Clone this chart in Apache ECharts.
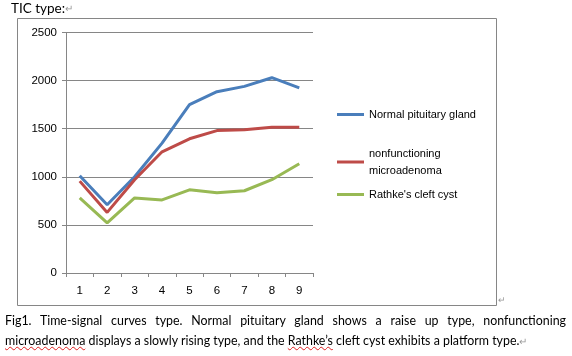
<!DOCTYPE html>
<html>
<head>
<meta charset="utf-8">
<script src="https://cdn.jsdelivr.net/npm/echarts@6/dist/echarts.min.js"></script>
<style>
  html, body { margin: 0; padding: 0; background: #fff; }
  #wrap { position: relative; width: 572px; height: 356px; overflow: hidden; }
  #chart { position: absolute; left: 0; top: 0; width: 572px; height: 356px; }
  .cap { position: absolute; left: 5px; width: 561px; font-family: Lato, 'Open Sans', sans-serif; font-size: 12.4px; color: #000; white-space: nowrap; }
  #cap1 { top: 313px; text-align: justify; text-align-last: justify; white-space: normal; }
  #cap2 { top: 333px; }
  .sp { text-decoration: underline wavy #e02020; text-decoration-thickness: 1px; }
  .pm { color: #999; font-size: 10px; }
</style>
</head>
<body>
<div id="wrap">
  <div id="chart"></div>
  <div class="cap" id="cap1">Fig1. Time-signal curves type. Normal pituitary gland shows a raise up type, nonfunctioning</div>
  <div class="cap" id="cap2"><span class="sp">microadenoma</span> displays a slowly rising type, and the <span class="sp">Rathke’s</span> cleft cyst exhibits a platform type.<span class="pm">↵</span></div>
</div>
<script>
// 时间点
const categories = ['1', '2', '3', '4', '5', '6', '7', '8', '9']
const normalGland = [1010, 710, 1000, 1350, 1750, 1885, 1940, 2030, 1925]
const microadenoma = [955, 630, 970, 1260, 1395, 1480, 1490, 1515, 1515]
const rathkeCyst = [780, 520, 780, 760, 865, 835, 855, 970, 1135]
const seriesNames = ['Normal pituitary gland', 'nonfunctioning\nmicroadenoma', "Rathke's cleft cyst"]
const seriesColors = ['#4A7EBB', '#BE4B48', '#98B954']

const axisGray = '#868686'
const font = "'Liberation Sans', Arial, sans-serif"

const myChart = echarts.init(document.getElementById('chart'))

const makeSeries = (name, data, color) => ({
  name,
  type: 'line',
  data,
  symbol: 'none',
  lineStyle: { width: 3, color },
  itemStyle: { color },
  animation: false
})

const makeLegend = (name, top) => ({
  data: [name],
  left: 332,
  top,
  orient: 'vertical',
  icon: 'rect',
  itemWidth: 27,
  itemHeight: 3,
  itemGap: 6,
  textStyle: { fontFamily: font, fontSize: 11, color: '#000', lineHeight: 17 }
})

const chartOption = {
  animation: false,
  title: {
    text: 'TIC type:{pm|↵}',
    left: 7,
    top: 0,
    padding: [2, 4],
    textStyle: {
      fontFamily: "Lato, 'Open Sans', sans-serif",
      fontSize: 13.5,
      fontWeight: 'normal',
      color: '#000',
      rich: { pm: { fontSize: 10, color: '#999' } }
    }
  },
  legend: [
    makeLegend(seriesNames[0], 101),
    makeLegend(seriesNames[1], 140),
    makeLegend(seriesNames[2], 181)
  ],
  grid: {
    left: 66,
    right: 259,
    top: 32.5,
    bottom: 83
  },
  xAxis: {
    type: 'category',
    data: categories,
    boundaryGap: true,
    axisLine: { lineStyle: { color: axisGray, width: 1 } },
    axisTick: { show: true, length: 4, lineStyle: { color: axisGray } },
    axisLabel: { fontFamily: font, fontSize: 11.5, color: '#000', margin: 12 },
    splitLine: { show: false }
  },
  yAxis: {
    type: 'value',
    min: 0,
    max: 2500,
    interval: 500,
    axisLine: { show: true, lineStyle: { color: axisGray, width: 1 } },
    axisTick: { show: true, length: 4, lineStyle: { color: axisGray } },
    axisLabel: { fontFamily: font, fontSize: 11.5, color: '#000', margin: 9, formatter: (v) => String(v) },
    splitLine: { lineStyle: { color: axisGray, width: 1 } }
  },
  graphic: [
    {
      type: 'rect',
      shape: { x: 17.5, y: 18.5, width: 479, height: 287 },
      style: { fill: 'none', stroke: axisGray, lineWidth: 1 },
      silent: true,
      z: -1
    },
    {
      type: 'text',
      left: 498,
      top: 296,
      style: { text: '↵', fontSize: 9, fill: '#999' }
    }
  ],
  series: [
    makeSeries(seriesNames[0], normalGland, seriesColors[0]),
    makeSeries(seriesNames[1], microadenoma, seriesColors[1]),
    makeSeries(seriesNames[2], rathkeCyst, seriesColors[2])
  ]
}

myChart.setOption(chartOption, true)
</script>
</body>
</html>
